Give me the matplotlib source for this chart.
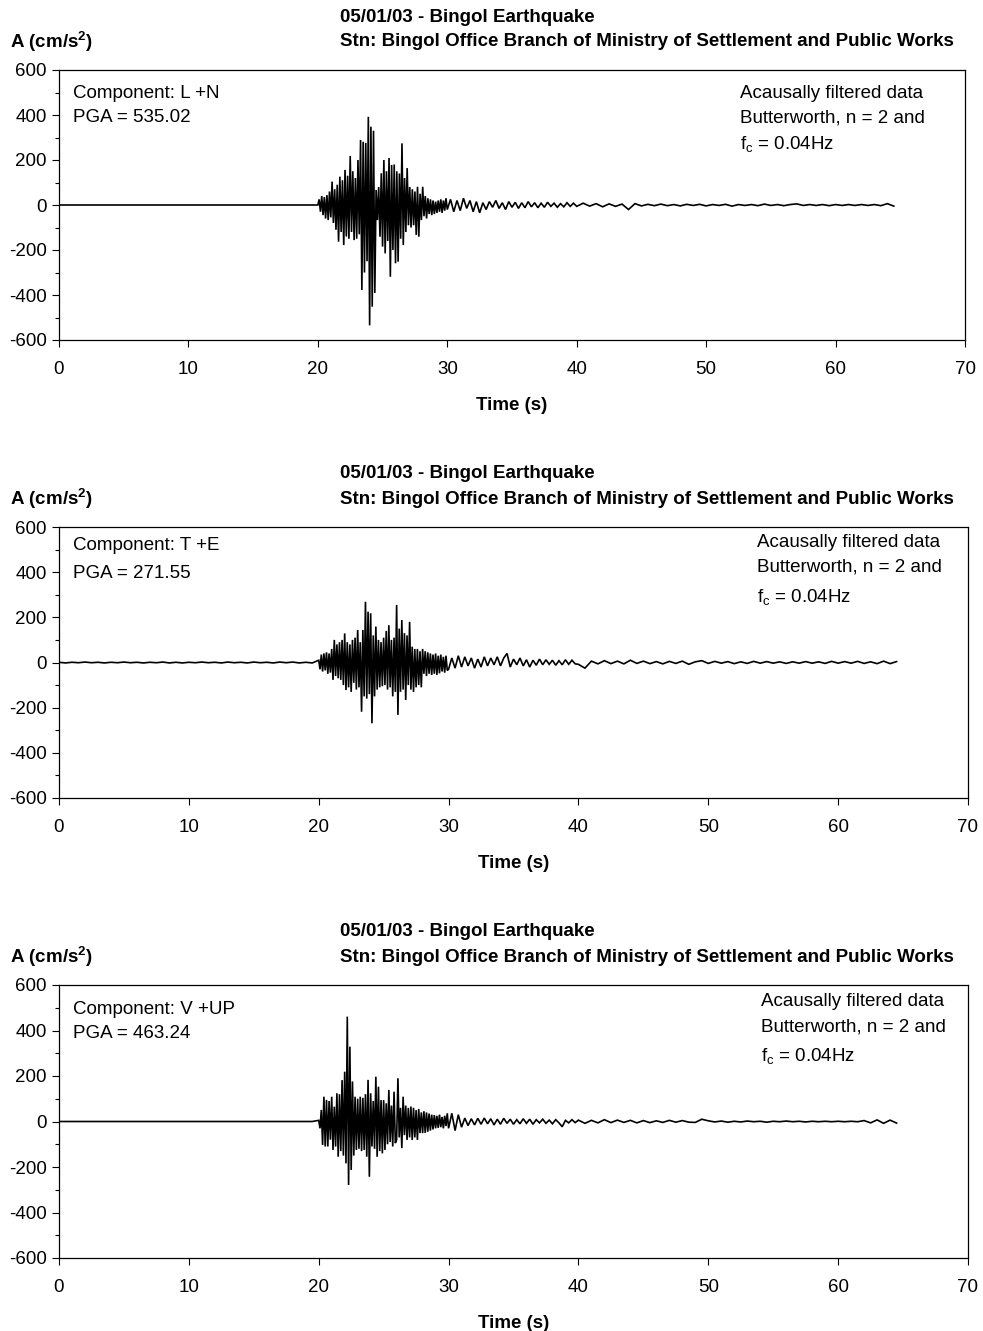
import numpy as np
import matplotlib
matplotlib.use("Agg")
import matplotlib.pyplot as plt
from matplotlib.ticker import MultipleLocator

plt.rcParams['font.family'] = ['Liberation Sans', 'DejaVu Sans']
plt.rcParams['axes.unicode_minus'] = False

W, H = 983, 1331

# ---------------- data ----------------
components = ["L +N", "T +E", "V +UP"]
pga_values = ["535.02", "271.55", "463.24"]

# sampling grids of the hand-read values (s)
strong_start, strong_step = 20.0, 0.1     # 20.0 .. 29.9
coda_a_start, coda_a_step = 30.0, 0.25    # 30.0 .. 39.75
coda_b_start, coda_b_step = 40.0, 0.5     # 40.0 .. 64.5
pre_start, pre_step = 0.0, 0.5            # 0.0 .. 19.5

# ---- L +N ----
pre_LN = [0] * 40
strong_LN = [0, 25, -30, 40, -45, 35, -60, 44, -67, 60,
             -55, 104, -80, 70, -110, 90, -163, 126, -120, 110,
             -178, 156, -140, 130, -150, 218, -120, 150, -156, 120,
             -150, 200, -130, 289, -378, 281, -300, 276, -250, 392,
             -535, 348, -452, 330, -391, 67, -67, 80, -141, 141,
             -185, 200, -215, 150, -160, 209, -319, 178, -200, 180,
             -259, 150, -252, 140, -150, 274, -178, 120, -120, 164,
             -90, 80, -100, 70, -90, 60, -133, 81, -141, 50,
             -67, 81, -50, 40, -60, 30, -40, 25, -45, 20,
             -40, 15, -35, 20, -30, 25, -35, 20, -25, 30]
coda_a_LN = [-20, 25, -30, 20, -25, 30, -15, 20, -30, 15,
             -35, 10, -20, 15, -10, 20, -15, 10, -20, 15,
             -10, 12, -15, 10, -12, 15, -8, 10, -12, 8,
             -10, 12, -6, 8, -10, 6, -8, 10, -6, 8]
coda_b_LN = [-6, 8, -5, 6, -8, 5, -6, 4, -20, 6,
             -4, 3, -3, 4, -3, 2, -4, 3, -2, 3,
             -4, 2, -2, 3, -5, 2, -2, 2, -3, 4,
             -2, 2, -3, 2, 5, -2, 2, -2, 2, -3,
             2, -2, 2, -2, 2, -2, 2, -3, 6, -5]

# ---- T +E ----
pre_TE = [1, -2, 1, -1, 2, -1, 1, -2, 1, -1,
          2, -1, 1, -2, 1, -1, 2, -2, 1, -2,
          1, -1, 2, -1, 1, -2, 2, -1, 1, -2,
          2, -1, 1, -2, 2, -1, 2, -2, 1, -2]
strong_TE = [10, -30, 35, -40, 40, -35, 45, -50, 40, -45,
             60, -77, 100, -60, 80, -70, 90, -77, 100, -100,
             129, -122, 90, -110, 80, -130, 100, -90, 110, -120,
             144, -110, 90, -218, 144, -150, 269, -160, 225, -140,
             218, -269, 120, -150, 159, -120, 100, -110, 90, -105,
             110, -100, 140, -120, 165, -110, 100, -150, 110, -130,
             255, -232, 150, -130, 188, -120, 130, -166, 120, -100,
             180, -120, 70, -130, 60, -110, 60, -100, 50, -110,
             60, -50, 50, -60, 45, -50, 40, -55, 35, -50,
             40, -55, 30, -48, 35, -40, 25, -45, 30, -35]
coda_a_TE = [-30, 20, -25, 30, -20, 25, -15, 20, -25, 15,
             -20, 25, -15, 20, -10, 25, -15, 20, 40, -20,
             15, -10, 20, -15, 12, -20, 10, -12, 15, -10,
             12, -8, 10, -12, 8, -10, 12, -8, 10, -6]
coda_b_TE = [-8, -25, 6, -6, 8, -5, 6, -6, 10, -4,
             6, -5, 4, -6, 5, -4, 6, -8, 3, 8,
             -4, 5, -3, 4, -5, 3, -4, 5, -3, 4,
             -3, 3, -4, 3, -3, 4, -3, 3, -4, 5,
             -3, 4, -3, 5, -4, 3, -5, 6, -5, 4]

# ---- V +UP ----
pre_VU = [0] * 40
strong_VU = [5, -30, 51, -103, 109, -110, 95, -110, 90, -80,
             109, -125, 65, -110, 124, -155, 120, -130, 182, -150,
             219, -184, 461, -279, 329, -213, 176, -150, 109, -125,
             100, -120, 109, -130, 104, -125, 120, -155, 183, -243,
             124, -110, 90, -120, 197, -155, 153, -130, 94, -140,
             94, -125, 80, -100, 139, -90, 70, -110, 131, -95,
             -80, 190, -70, 60, -117, 109, -60, 70, -81, 60,
             -70, 66, -81, 60, -70, 50, -81, 55, -51, 40,
             -51, 45, -50, 40, -45, 35, -40, 30, -35, 28,
             -30, 25, -28, 30, -25, 20, -30, 25, -20, 36]
coda_a_VU = [-30, 36, -40, 30, -25, 15, -18, 12, -15, 14,
             -12, 15, -10, 12, -15, 10, -12, 14, -8, 10,
             -12, 8, -10, 12, -8, 10, -12, 8, -6, 10,
             -8, 6, -10, 8, -6, -23, 5, -6, 8, -5]
coda_b_VU = [6, -8, 5, -6, 8, -5, 6, -4, 5, -6,
             4, -5, 3, -4, 5, -3, 4, -3, -4, 10,
             3, -2, 2, -3, 1, -2, 2, -1, 1, -3,
             1, -1, 2, -1, 1, -2, 1, -1, 1, -1,
             1, -1, 1, -1, 4, -6, 7, -8, 6, -7]

traces = [
    (pre_LN, strong_LN, coda_a_LN, coda_b_LN),
    (pre_TE, strong_TE, coda_a_TE, coda_b_TE),
    (pre_VU, strong_VU, coda_a_VU, coda_b_VU),
]

x_ticks = [0, 10, 20, 30, 40, 50, 60, 70]
y_ticks = [-600, -400, -200, 0, 200, 400, 600]

title_line1 = "05/01/03 - Bingol Earthquake"
title_line2 = "Stn: Bingol Office Branch of Ministry of Settlement and Public Works"
filter_lines = ["Acausally filtered data", "Butterworth, n = 2 and", r"f$_\mathregular{c}$ = 0.04Hz"]

# ---------------- layout (pixels) ----------------
boxes = [(59, 965, 70, 340), (59, 968, 527, 798), (59, 968, 985, 1258)]
filter_x = [740, 757, 761]
filter_y = [(94, 118, 145), (543, 567, 598), (1002, 1027, 1057)]
comp_y = [(94, 117), (546, 574), (1010, 1034)]

FS = 13.5


def fx(px):
    return px / W


def fy(py):
    return 1 - py / H


fig = plt.figure(figsize=(W / 100, H / 100), dpi=100)

for k, (pre, strong, ca, cb) in enumerate(traces):
    l, r, t, b = boxes[k]
    ax = fig.add_axes([fx(l), fy(b), fx(r) - fx(l), fy(t) - fy(b)])

    t_pre = pre_start + pre_step * np.arange(len(pre))
    t_strong = strong_start + strong_step * np.arange(len(strong))
    t_ca = coda_a_start + coda_a_step * np.arange(len(ca))
    t_cb = coda_b_start + coda_b_step * np.arange(len(cb))
    tt = np.concatenate([t_pre, t_strong, t_ca, t_cb])
    vv = np.concatenate([pre, strong, ca, cb]).astype(float)
    ax.plot(tt, vv, color='black', lw=1.2, solid_joinstyle='miter')

    ax.set_xlim(0, 70)
    ax.set_ylim(-600, 600)
    ax.set_xticks(x_ticks)
    ax.set_yticks(y_ticks)
    ax.yaxis.set_minor_locator(MultipleLocator(100))
    ax.tick_params(axis='y', which='major', direction='out', length=5,
                   width=0.8, labelsize=FS, pad=4)
    ax.tick_params(axis='x', which='major', direction='out', length=5,
                   width=0.8, labelsize=FS, pad=10)
    ax.tick_params(axis='y', which='minor', direction='out', length=3, width=0.8)
    for sp in ax.spines.values():
        sp.set_linewidth(0.9)
        sp.set_color('black')
    ax.set_xlabel("Time (s)", fontsize=FS, fontweight='bold', labelpad=14)

    fig.text(fx(340), fy(t - 53), title_line1, fontsize=FS, fontweight='bold',
             ha='left', va='center')
    fig.text(fx(340), fy(t - 28), title_line2, fontsize=FS, fontweight='bold',
             ha='left', va='center')
    fig.text(fx(10), fy(t - 28), r"A (cm/s$^\mathregular{2}$)", fontsize=FS,
             fontweight='bold', ha='left', va='center')

    fig.text(fx(73), fy(comp_y[k][0]), "Component: " + components[k],
             fontsize=FS, ha='left', va='center')
    fig.text(fx(73), fy(comp_y[k][1]), "PGA = " + pga_values[k],
             fontsize=FS, ha='left', va='center')
    for line, yy in zip(filter_lines, filter_y[k]):
        fig.text(fx(filter_x[k]), fy(yy), line, fontsize=FS, ha='left', va='center')

fig.savefig("out.png", dpi=100)
